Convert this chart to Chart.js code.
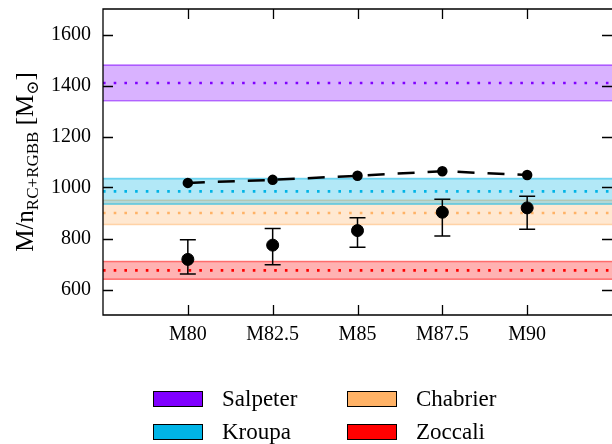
<!DOCTYPE html>
<html>
<head>
<meta charset="utf-8">
<script src="https://cdn.jsdelivr.net/npm/chart.js@4.4.0/dist/chart.umd.min.js"></script>
<style>
  html, body { margin: 0; padding: 0; background: #fff; }
  #wrap { width: 612px; height: 444px; }
</style>
</head>
<body>
<div id="wrap"><canvas id="chart" width="612" height="444"></canvas></div>
<script>
// cluster positions along x (0..4), axis padded one step each side
const clusters = ['M80', 'M82.5', 'M85', 'M87.5', 'M90'];
const xMin = -1;
const xMax = 5;

// measured mass per RC+RGBB star, with asymmetric errors
const massRatio = [718, 774, 831, 903, 920];
const massErrLow = [661, 697, 766, 810, 836];
const massErrHigh = [795, 839, 881, 954, 966];

// alternative estimate (dashed)
const massAlt = [1018, 1030, 1046, 1064, 1049];

// IMF predictions: central value and band
const imfNames = ['Salpeter', 'Kroupa', 'Chabrier', 'Zoccali'];
const imfColors = ['#8000ff', '#00b4e6', '#ffb266', '#ff0000'];
const imfMid = [1410, 985, 900, 675];
const imfLow = [1340, 935, 855, 640];
const imfHigh = [1480, 1035, 950, 710];

const yTicks = [600, 800, 1000, 1200, 1400, 1600];
const yMin = 500;
const yMax = 1700;

const serif = "'Liberation Serif', 'DejaVu Serif', serif";

function hexToRgba(hex, a) {
    const n = parseInt(hex.slice(1), 16);
    return `rgba(${(n >> 16) & 255}, ${(n >> 8) & 255}, ${n & 255}, ${a})`;
}

function flatLine(v) {
    return [{ x: xMin, y: v }, { x: xMax, y: v }];
}

function noPadding(scale) {
    scale.paddingLeft = 0;
    scale.paddingRight = 0;
    scale.paddingTop = 0;
    scale.paddingBottom = 0;
}

const datasets = [];

datasets.push({
    label: 'measured',
    data: clusters.map((c, i) => ({ x: i, y: massRatio[i] })),
    showLine: false,
    pointRadius: 6,
    pointBackgroundColor: '#000',
    pointBorderColor: '#000',
    borderColor: '#000',
    order: 0
});

datasets.push({
    label: 'alt',
    data: clusters.map((c, i) => ({ x: i, y: massAlt[i] })),
    borderColor: '#000',
    borderWidth: 2.5,
    borderDash: [17, 13],
    pointRadius: 4,
    pointBackgroundColor: '#000',
    pointBorderColor: '#000',
    tension: 0,
    fill: false,
    order: 1
});

imfNames.forEach((name, i) => {
    const col = imfColors[i];
    datasets.push({
        label: name + ' mid',
        data: flatLine(imfMid[i]),
        borderColor: col,
        borderWidth: 2.6,
        borderDash: [2.6, 8.1],
        pointRadius: 0,
        fill: false,
        order: 2 + i * 3
    });
    datasets.push({
        label: name + ' high',
        data: flatLine(imfHigh[i]),
        borderColor: hexToRgba(col, 0.5),
        borderWidth: 1.6,
        pointRadius: 0,
        backgroundColor: hexToRgba(col, 0.3),
        fill: '+1',
        order: 3 + i * 3
    });
    datasets.push({
        label: name + ' low',
        data: flatLine(imfLow[i]),
        borderColor: hexToRgba(col, 0.5),
        borderWidth: 1.6,
        pointRadius: 0,
        fill: false,
        order: 4 + i * 3
    });
});

// error bars, inward ticks, frame, y title and legend
const decorations = {
    id: 'decorations',
    afterDatasetsDraw(chart) {
        const ctx = chart.ctx;
        const xs = chart.scales.x;
        const ys = chart.scales.y;
        ctx.save();
        ctx.strokeStyle = '#000';
        ctx.lineWidth = 1.5;
        for (let i = 0; i < clusters.length; i++) {
            const px = xs.getPixelForValue(i);
            const lo = ys.getPixelForValue(massErrLow[i]);
            const hi = ys.getPixelForValue(massErrHigh[i]);
            ctx.beginPath();
            ctx.moveTo(px, lo);
            ctx.lineTo(px, hi);
            ctx.moveTo(px - 8, lo);
            ctx.lineTo(px + 8, lo);
            ctx.moveTo(px - 8, hi);
            ctx.lineTo(px + 8, hi);
            ctx.stroke();
        }
        ctx.restore();
    },
    afterDraw(chart) {
        const ctx = chart.ctx;
        const area = chart.chartArea;
        const xs = chart.scales.x;
        const ys = chart.scales.y;
        const tick = 10;

        ctx.save();
        ctx.strokeStyle = '#000';
        ctx.lineWidth = 1.3;
        // frame: the right spine sits on the canvas edge
        ctx.beginPath();
        ctx.moveTo(area.right + 2, area.top);
        ctx.lineTo(area.left, area.top);
        ctx.lineTo(area.left, area.bottom);
        ctx.lineTo(area.right + 2, area.bottom);
        ctx.stroke();

        ctx.beginPath();
        xs.ticks.forEach(t => {
            if (!clusters[t.value]) return;
            const px = Math.round(xs.getPixelForValue(t.value)) + 0.5;
            ctx.moveTo(px, area.bottom);
            ctx.lineTo(px, area.bottom - tick);
            ctx.moveTo(px, area.top);
            ctx.lineTo(px, area.top + tick);
        });
        ys.ticks.forEach(t => {
            const py = Math.round(ys.getPixelForValue(t.value)) + 0.5;
            ctx.moveTo(area.left, py);
            ctx.lineTo(area.left + tick, py);
            ctx.moveTo(area.right + 1, py);
            ctx.lineTo(area.right - tick, py);
        });
        ctx.stroke();

        // y axis title with subscripts
        const parts = [
            { t: 'M/n', size: 25, dy: 0 },
            { t: 'RC+RGBB', size: 17, dy: 5 },
            { t: ' [M', size: 25, dy: 0 },
            { t: '\u2299', size: 17, dy: 5 },
            { t: ']', size: 25, dy: 0 }
        ];
        let total = 0;
        parts.forEach(p => {
            ctx.font = `${p.size}px ${serif}`;
            p.w = ctx.measureText(p.t).width;
            total += p.w;
        });
        ctx.translate(33, (area.top + area.bottom) / 2);
        ctx.rotate(-Math.PI / 2);
        ctx.fillStyle = '#000';
        ctx.textBaseline = 'alphabetic';
        let cx = -total / 2;
        parts.forEach(p => {
            ctx.font = `${p.size}px ${serif}`;
            ctx.fillText(p.t, cx, p.dy);
            cx += p.w;
        });
        ctx.restore();

        // legend: two columns, two rows
        const order = [0, 2, 1, 3];
        const colX = [153, 347];
        const rowY = [391, 424];
        ctx.save();
        ctx.font = `23px ${serif}`;
        ctx.textBaseline = 'middle';
        order.forEach((idx, k) => {
            const bx = colX[k % 2];
            const by = rowY[Math.floor(k / 2)];
            ctx.fillStyle = imfColors[idx];
            ctx.fillRect(bx, by, 50, 16);
            ctx.strokeStyle = '#000';
            ctx.lineWidth = 1;
            ctx.strokeRect(bx + 0.5, by + 0.5, 49, 15);
            ctx.fillStyle = '#000';
            ctx.fillText(imfNames[idx], bx + 69, by + 9);
        });
        ctx.restore();
    }
};

new Chart(document.getElementById('chart'), {
    type: 'line',
    data: { datasets },
    options: {
        responsive: false,
        animation: false,
        layout: {
            autoPadding: false,
            padding: { top: 9, right: 0, left: 0, bottom: 99 }
        },
        plugins: {
            legend: { display: false },
            tooltip: { enabled: false }
        },
        scales: {
            x: {
                type: 'linear',
                min: xMin,
                max: xMax,
                grid: { display: false, drawTicks: false },
                border: { display: false },
                afterBuildTicks: scale => {
                    scale.ticks = clusters.map((c, i) => ({ value: i }));
                },
                afterFit: scale => {
                    scale.height = 30;
                    noPadding(scale);
                },
                ticks: {
                    color: '#000',
                    font: { family: serif, size: 20 },
                    padding: 8,
                    maxRotation: 0,
                    autoSkip: false,
                    callback: v => clusters[v] || ''
                }
            },
            y: {
                min: yMin,
                max: yMax,
                grid: { display: false, drawTicks: false },
                border: { display: false },
                afterBuildTicks: scale => {
                    scale.ticks = yTicks.map(v => ({ value: v }));
                },
                afterFit: scale => {
                    scale.width = 103;
                    noPadding(scale);
                },
                ticks: {
                    color: '#000',
                    font: { family: serif, size: 20 },
                    padding: 12,
                    callback: v => String(v)
                }
            }
        }
    },
    plugins: [decorations]
});
</script>
</body>
</html>
